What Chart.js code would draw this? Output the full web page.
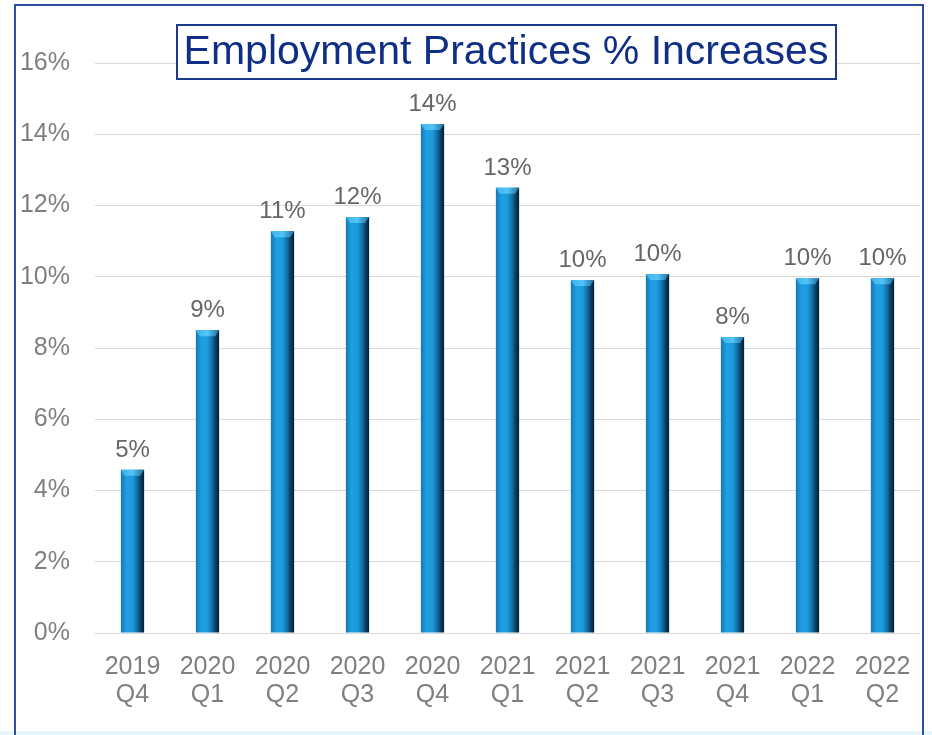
<!DOCTYPE html>
<html>
<head>
<meta charset="utf-8">
<script src="https://cdn.jsdelivr.net/npm/chart.js@4/dist/chart.umd.min.js"></script>
<style>
  html, body { margin: 0; padding: 0; background: #fff; }
  #wrap { position: relative; width: 932px; height: 735px; overflow: hidden; }
  #frame { position: absolute; left: 14px; top: 4px; width: 906px; height: 760px; border: 2px solid #2f4f9c; pointer-events: none; }
  #strip { position: absolute; left: 0; top: 731px; width: 932px; height: 4px; background: #e6f5fb; }
  canvas { position: absolute; left: 0; top: 0; }
</style>
</head>
<body>
<div id="wrap">
  <canvas id="chart" width="932" height="735"></canvas>
  <div id="strip"></div>
  <div id="frame"></div>
</div>
<script>
const quarters = [
  ['2019', 'Q4'], ['2020', 'Q1'], ['2020', 'Q2'], ['2020', 'Q3'], ['2020', 'Q4'],
  ['2021', 'Q1'], ['2021', 'Q2'], ['2021', 'Q3'], ['2021', 'Q4'], ['2022', 'Q1'], ['2022', 'Q2']
];
const increases = [4.58, 8.5, 11.28, 11.68, 14.29, 12.5, 9.91, 10.08, 8.31, 9.96, 9.96];
const yTicks = [0, 2, 4, 6, 8, 10, 12, 14, 16];
const chartTitle = 'Employment Practices % Increases';

const catPct = 0.62, barPct = 0.5;

// cylinder look for each bar
function barFill(ctx) {
  const chart = ctx.chart;
  const xs = chart.scales.x;
  if (!xs || !chart.chartArea) return '#1a9ad8';
  const cx = xs.getPixelForValue(ctx.dataIndex);
  const w = (xs.width / quarters.length) * catPct * barPct;
  const g = chart.ctx.createLinearGradient(cx - w / 2, 0, cx + w / 2, 0);
  g.addColorStop(0, '#1577b8');
  g.addColorStop(0.25, '#1fa0e2');
  g.addColorStop(0.5, '#1c9bdc');
  g.addColorStop(0.7, '#136fa6');
  g.addColorStop(0.85, '#0b3f62');
  g.addColorStop(1, '#071e33');
  return g;
}

const extras = {
  id: 'extras',
  afterDatasetsDraw(chart) {
    const c = chart.ctx;
    const meta = chart.getDatasetMeta(0);
    c.save();
    meta.data.forEach((bar, i) => {
      const l = bar.x - bar.width / 2, r = bar.x + bar.width / 2, t = bar.y;
      // bevel on top of the bar
      const g = c.createLinearGradient(l, 0, r, 0);
      g.addColorStop(0, '#3fb2ec');
      g.addColorStop(0.5, '#52c4f5');
      g.addColorStop(1, '#1f6d9c');
      c.fillStyle = g;
      c.beginPath();
      c.moveTo(l, t);
      c.lineTo(r, t);
      c.lineTo(r - 4, t + 6);
      c.lineTo(l + 4, t + 6);
      c.closePath();
      c.fill();
      // value label
      c.fillStyle = '#666666';
      c.font = '24px "Liberation Sans", Arial, sans-serif';
      c.textAlign = 'center';
      c.textBaseline = 'alphabetic';
      c.fillText(Math.round(increases[i]) + '%', bar.x, t - 13);
    });
    // boxed title
    c.font = '41px "Liberation Sans", Arial, sans-serif';
    c.textAlign = 'center';
    c.textBaseline = 'middle';
    c.fillStyle = '#ffffff';
    c.fillRect(177, 25, 659, 54);
    c.strokeStyle = '#1c3a8a';
    c.lineWidth = 2;
    c.strokeRect(177, 25, 659, 54);
    c.fillStyle = '#0f2f86';
    c.fillText(chartTitle, 506, 53);
    c.restore();
  }
};

new Chart(document.getElementById('chart'), {
  type: 'bar',
  data: {
    labels: quarters,
    datasets: [{
      data: increases,
      backgroundColor: barFill,
      borderWidth: 0,
      categoryPercentage: catPct,
      barPercentage: barPct
    }]
  },
  options: {
    responsive: false,
    animation: false,
    layout: { padding: { left: 0, right: 12, top: 63, bottom: 0 } },
    plugins: {
      legend: { display: false },
      title: { display: false },
      tooltip: { enabled: false }
    },
    scales: {
      x: {
        grid: { display: false, drawTicks: false },
        border: { display: false },
        ticks: {
          color: '#7f7f7f',
          padding: 20,
          font: { size: 25, family: '"Liberation Sans", Arial, sans-serif', lineHeight: 1.12 },
          maxRotation: 0,
          autoSkip: false
        },
        afterFit(scale) { scale.height = 102; }
      },
      y: {
        min: 0,
        max: 16,
        afterBuildTicks(scale) { scale.ticks = yTicks.map(v => ({ value: v })); },
        grid: { color: '#d9d9d9', drawTicks: false },
        border: { display: false },
        ticks: {
          color: '#7f7f7f',
          padding: 25,
          font: { size: 25, family: '"Liberation Sans", Arial, sans-serif' },
          callback: v => v + '%'
        },
        afterFit(scale) { scale.width = 95; }
      }
    }
  },
  plugins: [extras]
});
</script>
</body>
</html>
